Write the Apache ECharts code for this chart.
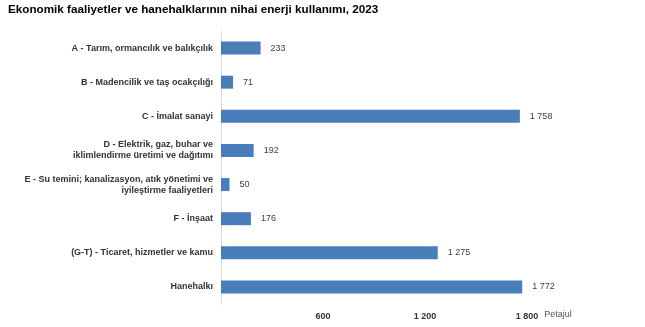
<!DOCTYPE html>
<html><head><meta charset="utf-8">
<script src="https://cdn.jsdelivr.net/npm/echarts@6/dist/echarts.min.js"></script>
<style>html,body{margin:0;padding:0;background:#fff}#c{width:645px;height:327px}</style>
</head><body><div id="c"></div>
<script>
const titleText = 'Ekonomik faaliyetler ve hanehalklarının nihai enerji kullanımı, 2023';
const categories = [
  'A - Tarım, ormancılık ve balıkçılık',
  'B - Madencilik ve taş ocakçılığı',
  'C - İmalat sanayi',
  'D - Elektrik, gaz, buhar ve\niklimlendirme üretimi ve dağıtımı',
  'E - Su temini; kanalizasyon, atık yönetimi ve\niyileştirme faaliyetleri',
  'F - İnşaat',
  '(G-T) - Ticaret, hizmetler ve kamu',
  'Hanehalkı'
];
const values = [233, 71, 1758, 192, 50, 176, 1275, 1772];
const axisMin = 0, axisMax = 1800, axisStep = 600;
const unitName = 'Petajul';

function fmt(v){ return String(v).replace(/\B(?=(\d{3})+(?!\d))/g, ' '); }

const chart = echarts.init(document.getElementById('c'), null, {renderer:'canvas'});
chart.setOption({
  animation:false,
  title:{ text:titleText, left:8, top:4, padding:0,
    textStyle:{ fontFamily:'Liberation Sans, Arial', fontSize:11.7, fontWeight:'bold', color:'#000' } },
  grid:{ left:221, right:118, top:31, bottom:23, containLabel:false },
  xAxis:{ type:'value', min:axisMin, max:axisMax, interval:axisStep,
    name:unitName, nameLocation:'end', nameGap:10,
    nameTextStyle:{ fontFamily:'Liberation Sans, Arial', fontSize:9, color:'#555', verticalAlign:'top', padding:[6,0,0,0] },
    axisLine:{ show:false }, axisTick:{ show:false }, splitLine:{ show:false },
    axisLabel:{ showMinLabel:false, fontFamily:'Liberation Sans, Arial', fontSize:9, fontWeight:'bold', color:'#333', margin:8,
      formatter:v=>fmt(v) } },
  yAxis:{ type:'category', data:categories, inverse:true,
    axisLine:{ show:true, lineStyle:{ color:'#d9d9d9', width:1 } },
    axisTick:{ show:false },
    axisLabel:{ fontFamily:'Liberation Sans, Arial', fontSize:9, fontWeight:'bold', color:'#333', margin:8, lineHeight:11, align:'right' } },
  series:[{ type:'bar', data:values, barWidth:13,
    itemStyle:{ color:'#4a7ebb' },
    label:{ show:true, position:'right', distance:10, fontFamily:'Liberation Sans, Arial', fontSize:9, color:'#404040',
      formatter:p=>fmt(p.value) } }]
});
</script></body></html>
